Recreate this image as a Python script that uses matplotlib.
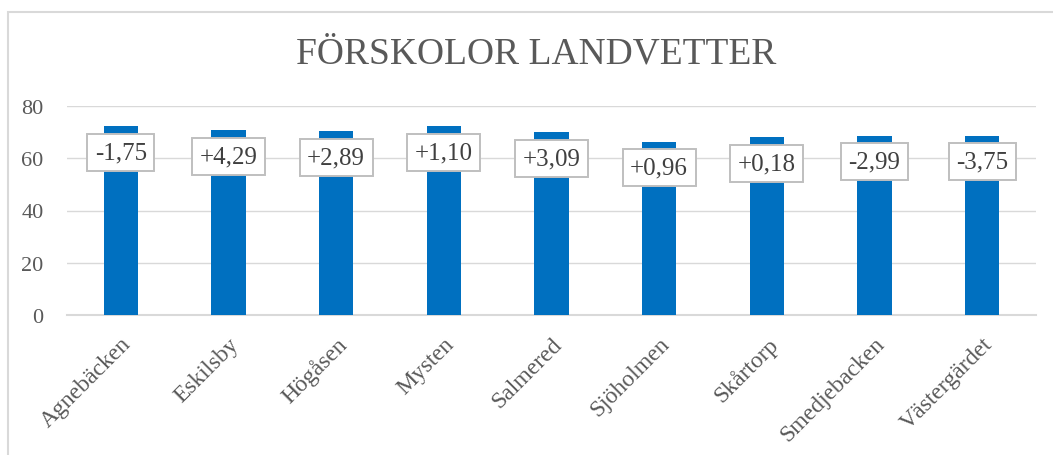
import numpy as np
import matplotlib.pyplot as plt
from matplotlib.patches import Rectangle

# values
forskolor = ['Agnebäcken', 'Eskilsby', 'Högåsen', 'Mysten', 'Salmered',
             'Sjöholmen', 'Skårtorp', 'Smedjebacken', 'Västergärdet']
values = [72.3, 70.7, 70.3, 72.3, 69.9, 66.4, 68.0, 68.7, 68.7]
changes = ['-1,75', '+4,29', '+2,89', '+1,10', '+3,09',
           '+0,96', '+0,18', '-2,99', '-3,75']
yticks = [0, 20, 40, 60, 80]

plt.rcParams['font.family'] = ['Liberation Serif', 'DejaVu Serif']

fig = plt.figure(figsize=(10.53, 4.56), dpi=100)
ax = fig.add_axes([67 / 1053, 1 - 316 / 456, (1036 - 67) / 1053, (316 - 107) / 456])

x = np.arange(len(forskolor))
ax.bar(x, values, width=0.32, color='#0070C0', zorder=3)

for i, (v, c) in enumerate(zip(values, changes)):
    ax.annotate(c, (x[i], v), xytext=(0, -19), textcoords='offset points',
                ha='center', va='center', fontsize=18, color='#404040', zorder=4,
                bbox=dict(boxstyle='square,pad=0.3', fc='white', ec='#BFBFBF', lw=1.4))

ax.set_xlim(-0.5, len(forskolor) - 0.5)
ax.set_ylim(0, 80)
ax.set_yticks(yticks)
ax.yaxis.grid(True, color='#D9D9D9', lw=1.0, zorder=0)
ax.tick_params(axis='y', length=0, pad=17, labelsize=16, labelcolor='#595959')
ax.tick_params(axis='x', length=0, pad=13, labelsize=17, labelcolor='#595959')
ax.set_xticks(x)
ax.set_xticklabels(forskolor, rotation=45, ha='right', va='top', rotation_mode='anchor')

for s in ['top', 'right', 'left']:
    ax.spines[s].set_visible(False)
ax.spines['bottom'].set_color('#D9D9D9')
ax.spines['bottom'].set_linewidth(1.5)

fig.text(536 / 1053, 1 - 54 / 456, 'FÖRSKOLOR LANDVETTER', ha='center', va='center',
         fontsize=27, color='#595959')

# chart area border (runs off the right and bottom edges)
fig.patches.append(Rectangle((7.5 / 1053, -0.1), 1.2, 1 - 12.7 / 456 + 0.1,
                             transform=fig.transFigure, fill=False,
                             ec='#D9D9D9', lw=1.5, clip_on=False))

plt.savefig('out.png', dpi=100)
